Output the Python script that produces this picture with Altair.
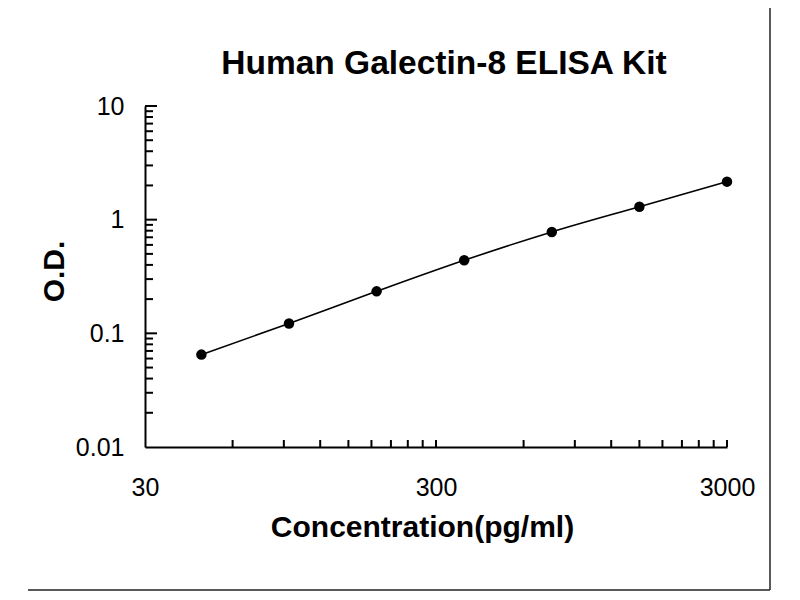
import altair as alt
import pandas as pd

# standard curve
conc = [46.875, 93.75, 187.5, 375, 750, 1500, 3000]
od = [0.065, 0.122, 0.234, 0.439, 0.78, 1.30, 2.16]

x_labels = [30, 300, 3000]
y_labels = [0.01, 0.1, 1, 10]

# inward tick marks (Excel style)
x_ticks = [60, 90, 120, 150, 180, 210, 240, 270, 300,
           600, 900, 1200, 1500, 1800, 2100, 2400, 2700, 3000]
y_major = [0.1, 1, 10]
y_minor = [0.02, 0.03, 0.04, 0.05, 0.06, 0.07, 0.08, 0.09,
           0.2, 0.3, 0.4, 0.5, 0.6, 0.7, 0.8, 0.9,
           2, 3, 4, 5, 6, 7, 8, 9]

title_text = "Human Galectin-8 ELISA Kit"

W, H = 582, 341
FONT = "Liberation Sans"

curve = pd.DataFrame({"conc": conc, "od": od})

xscale = alt.Scale(type="log", domain=[30, 3000], nice=False)
yscale = alt.Scale(type="log", domain=[0.01, 10], nice=False)

x_axis = alt.Axis(
    values=x_labels, format="~g", ticks=False, tickSize=0, grid=False,
    domainColor="black", domainWidth=2,
    labelFont=FONT, labelFontSize=25, labelColor="black", labelPadding=28,
    labelFlush=False,
    title="Concentration(pg/ml)", titleFont=FONT, titleFontSize=30,
    titleFontWeight="bold", titleColor="black",
    titleX=277, titleY=89, titleBaseline="alphabetic", titleAlign="center",
)
y_axis = alt.Axis(
    values=y_labels, format="~g", ticks=False, tickSize=0, grid=False,
    domainColor="black", domainWidth=2,
    labelFont=FONT, labelFontSize=25, labelColor="black", labelPadding=21,
    labelFlush=False,
    title="O.D.", titleFont=FONT, titleFontSize=30,
    titleFontWeight="bold", titleColor="black",
    titleX=-82, titleY=165, titleBaseline="alphabetic", titleAlign="center",
    titleAngle=270,
)

X = alt.X("conc:Q", scale=xscale, axis=x_axis)
Y = alt.Y("od:Q", scale=yscale, axis=y_axis)

line = alt.Chart(curve).mark_line(
    color="black", strokeWidth=1.6, interpolate="monotone"
).encode(x=X, y=Y)

points = alt.Chart(curve).mark_circle(color="black", opacity=1, size=110).encode(
    x=X, y=Y
)

xt = alt.Chart(pd.DataFrame({"conc": x_ticks})).mark_rule(
    color="black", strokeWidth=2
).encode(x=X, y=alt.value(H), y2=alt.value(H - 7))

yt_major = alt.Chart(pd.DataFrame({"od": y_major})).mark_rule(
    color="black", strokeWidth=2
).encode(y=Y, x=alt.value(0), x2=alt.value(12))

yt_minor = alt.Chart(pd.DataFrame({"od": y_minor})).mark_rule(
    color="black", strokeWidth=2
).encode(y=Y, x=alt.value(0), x2=alt.value(8))

# picture frame (right and bottom edge of the original figure box)
one = pd.DataFrame({"k": [0]})
frame_right = alt.Chart(one).mark_rule(color="#222", strokeWidth=1.5).encode(
    x=alt.value(625), y=alt.value(-98), y2=alt.value(484)
)
frame_bottom = alt.Chart(one).mark_rule(color="#222", strokeWidth=1.5).encode(
    y=alt.value(484), x=alt.value(-117), x2=alt.value(625)
)

# chart title, drawn as text so the frame line does not push it off the page
title = alt.Chart(one).mark_text(
    text=title_text, font=FONT, fontSize=33.5, fontWeight="bold",
    color="black", align="center", baseline="alphabetic",
).encode(x=alt.value(299), y=alt.value(-32))

chart = alt.layer(
    line, points, xt, yt_major, yt_minor, frame_right, frame_bottom, title
).properties(
    width=W,
    height=H,
    padding={"left": 137, "top": 98, "right": 65, "bottom": 145},
    autosize=alt.AutoSizeParams(type="none"),
    background="white",
).configure_view(strokeWidth=0)

chart.save("out.html", embed_options={"renderer": "svg", "actions": False})
